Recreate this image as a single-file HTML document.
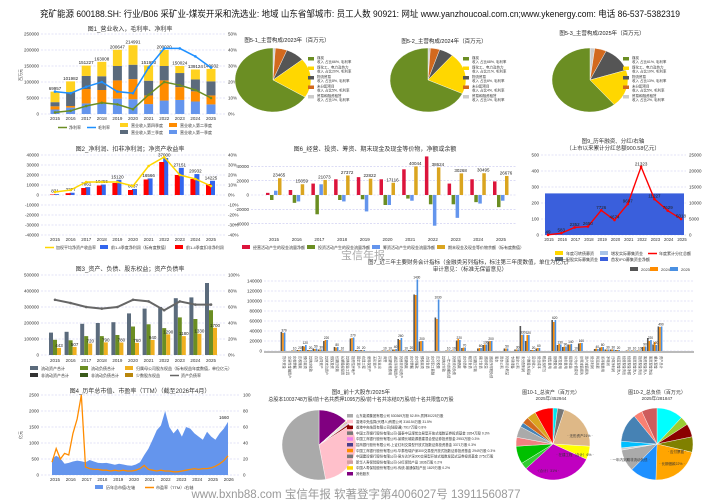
<!DOCTYPE html>
<html><head><meta charset="utf-8"><style>
html,body{margin:0;padding:0;background:#fff}
svg{display:block;font-family:"Liberation Sans","Noto Sans CJK SC",sans-serif}
</style></head><body>
<svg id="c" width="714" height="500" viewBox="0 0 714 500" xmlns="http://www.w3.org/2000/svg">
<text x="360" y="17" font-size="9" text-anchor="middle" textLength="640" lengthAdjust="spacingAndGlyphs" fill="#111">兖矿能源 600188.SH:  行业/B06 采矿业-煤炭开采和洗选业:  地域 山东省邹城市:  员工人数 90921:  网址 www.yanzhoucoal.com.cn;www.ykenergy.com:  电话 86-537-5382319</text>
<text x="363" y="259" font-size="11" text-anchor="middle" fill="#aaa">宝信年报</text>
<text x="356" y="498" font-size="11.5" text-anchor="middle" fill="#999">www.bxnb88.com  宝信年报  软著登字第4006027号  13911560877</text>
</svg>
<script>
const years=['2015','2016','2017','2018','2019','2020','2021','2022','2023','2024','2025'];
// chart1
const revQ1=[14000,20000,33000,35000,48000,46000,31000,42000,44000,39000,30000];
const revQ2=[10000,5000,45000,40000,57000,63000,27000,63000,40000,32000,28000];
const revQ3=[13000,43000,41000,43000,45000,45000,46000,45000,44000,37000,44000];
const revQ4=[32957,33982,32227,45008,50647,60991,47990,50020,22024,31124,38932];
const revTotal=[69957,101982,151227,163008,200647,214991,151990,200020,150024,139124,140932];
const grossM=[14,13,17,20,14,13,29,41,41,36,29];
const netM=[1,2,5,7,6,3,12,20,18,15,10];
// chart2
const netProfit=[831,2277,7861,10455,15120,6037,16566,37000,27151,20932,14225];
const dedProfit=[500,1800,7000,9500,12000,5000,15500,33000,20000,16000,11000];
const roe=[3,5,13,13,13,9,29,38,20,16,9];
// chart6
const cfOp=[3000,7000,16000,22000,25000,22000,36000,54000,16000,22000,19000];
const cfInv=[-7000,-11000,-27000,-7000,-6000,-14000,-5000,-13000,-13000,-10000,-17000];
const cfFin=[6000,-9000,15000,-9000,-23000,-14000,-8000,-43000,-32000,-12000,-8000];
const cashEnd=[23465,15059,21073,27372,22822,17116,40044,38624,30268,30495,26676];
// chart9
const divs=[49,583,2352,2650,7726,4674,9697,21323,11227,7629,5018];
const raisedCum=260;
// chart3
const assets=[140000,145000,195000,200000,205000,260000,290000,300000,355000,360000,450000];
const liabs=[95000,92000,118000,118000,125000,178000,192000,168000,235000,225000,280000];
const equity=[44300,50700,72000,79000,78000,76000,94000,129000,118000,133000,170000];
const debtR=[69,65,60,58,60,69,67,56,67,63,63];
// chart7
const itemNames=['货币资金','交易性金融资产','应收票据','应收账款','预付款项','其他应收款','存货','合同资产','其他流动资产','债权投资','长期应收款','长期股权投资','其他权益工具','投资性房地产','固定资产','在建工程','使用权资产','无形资产','开发支出','商誉','长期待摊费用','递延所得税资产','其他非流动资产','短期借款','应付票据','应付账款','预收款项','合同负债','应付职工薪酬','应交税费','其他应付款','一年内到期负债','其他流动负债','长期借款','应付债券','租赁负债','长期应付款','预计负债','递延收益','递延所得税负债','股本','资本公积','其他综合收益','专项储备','盈余公积','未分配利润','少数股东权益','营业收入','营业成本','税金及附加','销售费用','管理费用','研发费用','财务费用','投资收益','公允价值变动','信用减值损失','资产减值损失','营业利润','利润总额','所得税费用','净利润','归母净利润','经营现金流入','经营现金流出','经营现金净额','投资现金流入','投资现金流出','筹资现金流入','筹资现金流出','期末现金','资产总计'];
const v2023=[38000,0,1000,2000,10000,2000,5000,3000,20000,0,8000,1000,0,25000,2000,2000,0,0,0,1000,1000,3000,24000,1000,2000,113000,19000,0,0,67000,0,1000,1000,21000,6000,0,0,5000,12000,19000,0,0,5000,0,3000,50000,20000,2000,5000,0,0,62000,12000,8000,13000,1000,15000,0,0,4000,7000,3000,3000,2000,0,1000,1000,1000,8000,26000,13000,49000];
const v2024=[36000,0,1000,2000,9000,2000,4000,3000,22000,0,7000,1000,0,26000,2000,1000,0,0,0,1000,1000,3000,22000,1000,2000,112000,20000,0,0,64000,0,1000,1000,24000,7000,0,0,6000,13000,20000,0,0,5000,0,3000,32000,32000,2000,6000,0,0,58000,14000,9000,13000,1000,16000,0,0,5000,8000,3000,3000,2000,0,1000,1000,1000,9000,20000,18000,48000];
const v2025=[37000,0,1000,2000,12000,2000,5000,3000,22000,0,8000,1000,0,27000,2000,2000,0,0,0,1000,1000,4000,26000,1000,2000,143000,20000,0,0,103000,0,1000,1000,22000,7000,0,0,6000,13000,20000,0,0,5000,0,3000,33000,32000,2000,6000,0,0,62000,13000,9000,14000,1000,16000,0,0,4000,8000,3000,3000,2000,0,1000,1000,1000,9000,22000,12000,49000];
// chart4
const mcapLabels=['2015','2016','2017','2018','2019','2020','2021','2022','2023','2024','2025','2026'];
const mcap=[500,600,520,350,380,420,450,430,400,470,420,380,370,380,350,320,350,330,300,290,330,400,620,820,1100,1400,1550,2000,1500,1300,1450,1200,1500,1450,1300,1200,1100,1350,1200,1100,1300,1450,1660];
const pe=[16,33,20,27,25,52,70,100,10,8,7,7,6,6,5,6,5,6,5,5,6,8,12,7,6,5,6,5,5,4,4,5,6,7,8,7,8,8,9,11,14,18,24];
// pies (order: 煤炭, 煤化工电力, 物流贸易, 未分配, 贸易融资)
const pie51=[66,20,8,5,1], pie52=[68,21,6,4,1], pie53=[61,19,13,5,2];
const pie5Names=['煤炭','煤化工、电力及热力','物流贸易','未分配项目','贸易和融资租赁'];
const holders=[52.8,31.5,0.8,0.3,0.3,0.3,0.3,0.3,0.2,0.2,12.9];
const holderNames=['山东能源集团有限公司 530369万股 52.8% 质押30225万股','香港中央结算(代理人)有限公司 316154万股 31.5%','香港中央结算有限公司(陆股通) 7917万股 0.8%','中国工商银行股份有限公司-国泰中证煤炭交易型开放式指数证券投资基金 3354万股 0.3%','中国工商银行股份有限公司-景顺长城能源基建混合型证券投资基金 2953万股 0.3%','招商银行股份有限公司-上证红利交易型开放式指数证券投资基金 3371万股 0.3%','中国工商银行股份有限公司-华泰柏瑞沪深300交易型开放式指数证券投资基金 2949万股 0.3%','中国建设银行股份有限公司-易方达沪深300交易型开放式指数发起式证券投资基金 2752万股','新华人寿保险股份有限公司-分红保险产品 1836万股 0.2%','中国人寿保险股份有限公司-传统-普通保险产品 1829万股 0.2%','其他股东'];
const assetShares=[2,3,21,6,31,3,8,4,5,2,3,4,8];
const liabShares=[12,4,6,7,22,12,10,1,3,13,4,7];
</script>
<script>
const NS='http://www.w3.org/2000/svg';
const svg=document.getElementById('c');
function mk(t,a){const e=document.createElementNS(NS,t);for(const k in a)e.setAttribute(k,a[k]);svg.appendChild(e);return e;}
function tx(x,y,s,fs,anc,col,tr){const e=mk('text',{x:x,y:y,'font-size':fs,'text-anchor':anc||'middle',fill:col||'#333'});if(tr)e.setAttribute('transform',tr);e.textContent=s;


return e;}
function sc(d0,d1,r0,r1){return v=>r0+(v-d0)/(d1-d0)*(r1-r0);}
function grid(x0,x1,ys,vals,fmt,side){vals.forEach(v=>{const y=ys(v);const l=mk('line',{x1:x0,x2:x1,y1:y,y2:y,stroke:'#c8c8f0','stroke-width':0.6,'stroke-dasharray':'2,1.5'});


tx(side==='r'?x1+3:x0-2,y+1.7,fmt(v),4.5,side==='r'?'start':'end','#333');});}
function rlabels(x,ys,vals,fmt){vals.forEach(v=>tx(x,ys(v)+1.7,fmt(v),4.5,'start','#333'));}
function xlabels(xs,labels,y){labels.forEach((l,i)=>tx(xs(i),y,l,4.5,'middle','#333'));}
function rect(x,y,w,h,c,name){const r=mk('rect',{x:x,y:Math.min(y,y+h),width:Math.max(w,0),height:Math.abs(h),fill:c});


return r;}
function line(pts,c,w,name,mark){const p=mk('polyline',{points:pts.map(q=>q.join(',')).join(' '),fill:'none',stroke:c,'stroke-width':w});


if(mark)pts.forEach(q=>{const m=mk('circle',{cx:q[0],cy:q[1],r:1.3,fill:c});

});}
function legend(x,y,c,label,isLine){if(isLine){const l=mk('line',{x1:x,x2:x+9,y1:y-1.5,y2:y-1.5,stroke:c,'stroke-width':1.5});

}else{rect(x,y-4,8,4,c,'legend-swatch');}
tx(x+11,y,label,4,'start','#333');}
const fmtK=v=>String(v);
const pct=v=>v+'%';

// ===== Chart 1 =====
tx(130,31,'图1_营业收入，毛利率、净利率',6);
{const x0=41,x1=225,ys=sc(0,250000,114,34),yr=sc(0,50,114,34),xs=i=>55+i*15.6;
grid(x0,x1,ys,[0,50000,100000,150000,200000,250000],fmtK);
rlabels(x1+3,yr,[0,10,20,30,40,50],pct);
tx(22,75,'百万元',4,'middle','#333','rotate(-90 22 75)');
years.forEach((y,i)=>{let b=0;[[revQ1,'#6495ed'],[revQ2,'#ff8c00'],[revQ3,'#5b6b7c'],[revQ4,'#ffd21f']].forEach(([a,c])=>{rect(xs(i)-4.5,ys(b+a[i]),9,ys(b)-ys(b+a[i]),c,'revenue-bar-'+y);b+=a[i];});
tx(xs(i),ys(revTotal[i])-1.5,String(revTotal[i]),4.5,'middle','#222');});
line(grossM.map((v,i)=>[xs(i),yr(v)]),'#1e90ff',1.5,'gross-margin-line',true);
line(netM.map((v,i)=>[xs(i),yr(v)]),'#6b8e23',1.5,'net-margin-line',true);
xlabels(xs,years,120);
legend(58,129,'#6b8e23','净利率',true);legend(87,129,'#1e90ff','毛利率',true);legend(120,127,'#ffd21f','营业收入第四季度');legend(169,127,'#ff8c00','营业收入第二季度');
legend(120,134,'#5b6b7c','营业收入第三季度');legend(169,134,'#6495ed','营业收入第一季度');}

// ===== Pies =====
function pie(cx,cy,rx,ry,vals,cols,name){const tot=vals.reduce((a,b)=>a+b,0);let a=-Math.PI/2;vals.forEach((v,i)=>{const a2=a+v/tot*2*Math.PI;const lg=(a2-a)>Math.PI?1:0;
const d=`M${cx},${cy} L${cx+rx*Math.cos(a)},${cy+ry*Math.sin(a)} A${rx},${ry} 0 ${lg} 1 ${cx+rx*Math.cos(a2)},${cy+ry*Math.sin(a2)} Z`;
const p=mk('path',{d:d,fill:cols[i%cols.length],stroke:'#fff','stroke-width':0.4});

a=a2;});}
const p5c=['#6b8e23','#ffd700','#555','#d2691e','#ccc'];
function pie5(cx,cy,vals,title,tx0,ty0,lx){tx(tx0,ty0,title,5.5,'middle','#222');
pie(cx,cy,38,32,[vals[4],vals[3],vals[2],vals[1],vals[0]],[p5c[4],p5c[3],p5c[2],p5c[1],p5c[0]],'segment-pie');
pie5Names.forEach((n,i)=>{const y=60+i*9.5;rect(lx,y-3,6,3.5,p5c[i],'legend-swatch');tx(lx+9,y-1,n,3.5,'start','#333');tx(lx+9,y+3,'收入 占比'+vals[i]+'%, 毛利率',3.5,'start','#333');});}
pie5(273,80,pie51,'图5-1_主营构成/2023年（百万元）',287,42,308);
pie5(428,80,pie52,'图5-2_主营构成/2024年（百万元）',444,43,463);
pie5(590,80,pie53,'图5-3_主营构成/2025年（百万元）',602,35,623);

// ===== Chart 2 =====
tx(130,151,'图2_净利润、扣非净利润；净资产收益率',6);
{const x0=41,x1=225,ys=sc(-40000,40000,235,155),yr=sc(-40,40,235,155),xs=i=>55+i*15.6;
grid(x0,x1,ys,[-40000,-30000,-20000,-10000,0,10000,20000,30000,40000],fmtK);
rlabels(x1+3,yr,[-40,-30,-20,-10,0,10,20,30,40],pct);
years.forEach((y,i)=>{rect(xs(i)-1,ys(netProfit[i]),5,ys(0)-ys(netProfit[i]),'#3366ee','net-profit-bar-'+y);rect(xs(i)-5,ys(dedProfit[i]),5,ys(0)-ys(dedProfit[i]),'#ff0000','deducted-profit-bar-'+y);
tx(xs(i),ys(netProfit[i])-1.5,String(netProfit[i]),4.5,'middle','#222');});
line(roe.map((v,i)=>[xs(i),yr(v)]),'#ffd700',1.5,'roe-line',true);
xlabels(xs,years,241);
legend(45,249,'#ffd700','加权平均净资产收益率',true);legend(100,249,'#3366ee','前1-4季度净利润（标有度数值）');legend(175,249,'#ff0000','前1-4季度扣非净利润');}

// ===== Chart 6 =====
tx(375,151,'图6_经营、投资、筹资、期末现金及现金等价物，净额或余额',6);
{const x0=251,x1=516,ys=sc(-56000,56000,235,155),xs=i=>274+i*22.7;
grid(x0,x1,ys,[-40000,-20000,0,20000,40000],fmtK);
years.forEach((y,i)=>{[[cfOp,'#dc143c'],[cfInv,'#6b8e23'],[cfFin,'#6495ed'],[cashEnd,'#daa520']].forEach(([a,c],k)=>rect(xs(i)-8+k*4,ys(a[i]),3.5,ys(0)-ys(a[i]),c,'cashflow-bar-'+y));
tx(xs(i)+5,ys(cashEnd[i])-1.5,String(cashEnd[i]),4.5,'middle','#222');});
xlabels(xs,years,241);
legend(242,249,'#dc143c','经营活动产生的现金流量净额');legend(307,249,'#6b8e23','投资活动产生的现金流量净额');legend(372,249,'#6495ed','筹资活动产生的现金流量净额');legend(437,249,'#daa520','期末现金及现金等价物余额（标有度数值）');}

// ===== Chart 9 =====
tx(613,143,'图9_历年融资、分红/右轴',5.5);tx(613,150,'（上市以来累计分红总额900.58亿元）',5.5);
{const x0=541,x1=686,ys=sc(0,500,235,155),yr=sc(0,25000,235,155),xs=i=>548+i*13.3;
grid(x0,x1,ys,[0,100,200,300,400,500],fmtK);
rlabels(x1+3,yr,[0,5000,10000,15000,20000,25000],fmtK);
rect(545,ys(raisedCum),139,ys(0)-ys(raisedCum),'#3a5fdc','raised-capital-area');
line(divs.map((v,i)=>[xs(i),yr(v)]),'#ff0000',1.4,'dividend-line',true);
divs.forEach((v,i)=>tx(xs(i),yr(v)-1.5,String(v),4.5,'middle','#222'));
years.forEach((y,i)=>tx(xs(i)+1,241,y,4.2,'middle','#333'));
legend(555,255,'#ffd700','年度可转债募资');legend(600,255,'#a9c4e8','增发实际募集资金');legend(555,261,'#5b6b7c','配股实际募集资金');legend(600,261,'#3a5fdc','首发IPO募集资金净额');legend(648,255,'#ff0000','年度累计分红总额',true);}

// ===== Chart 3 =====
tx(130,271,'图3_资产、负债、股东权益；资产负债率',6);
{const x0=41,x1=225,ys=sc(0,500000,355,275),yr=sc(0,100,355,275),xs=i=>55+i*15.6;
grid(x0,x1,ys,[0,100000,200000,300000,400000,500000],fmtK);
rlabels(x1+3,yr,[0,20,40,60,80,100],pct);
years.forEach((y,i)=>{rect(xs(i)-6,ys(assets[i]),4,ys(0)-ys(assets[i]),'#5b6b7c','assets-bar-'+y);rect(xs(i)-2,ys(liabs[i]),4,ys(0)-ys(liabs[i]),'#6b8e23','liabilities-bar-'+y);rect(xs(i)+2,ys(equity[i]),4,ys(0)-ys(equity[i]),'#f0b020','equity-bar-'+y);
tx(xs(i)+4,ys(equity[i])-1,String(Math.round(equity[i]/100)),4.5,'middle','#222');});
line(debtR.map((v,i)=>[xs(i),yr(v)]),'#666',2,'debt-ratio-line',true);
xlabels(xs,years,362);
legend(30,370,'#5b6b7c','流动资产合计');legend(80,370,'#6b8e23','流动负债合计');legend(125,370,'#f0b020','归属母公司股东权益（标有权益年度数值，单位亿元）');
legend(30,377,'#333','非流动资产合计');legend(80,377,'#3a5a1a','非流动负债合计');legend(125,377,'#b8860b','少数股东权益');legend(170,377,'#666','资产负债率',true);}

// ===== Chart 7 =====
tx(470,264,'图7_近三年主要财务会计指标（金融类另列指标，标注第三年度数值，单位为亿元）',5.5);
tx(470,271,'审计意见：（标准无保留意见）',5.5);
{const x0=264,x1=694,ys=sc(0,140000,351,281),n=itemNames.length,xs=i=>283+i*(377/(n-1));
grid(x0,x1,ys,[0,20000,40000,60000,80000,100000,120000,140000],fmtK);
rect(x0,351,x1-x0,2,'#bbb','x-axis-band');
itemNames.forEach((nm,i)=>{rect(xs(i)-2.4,ys(v2023[i]),1.6,ys(0)-ys(v2023[i]),'#555','item-bar-2023');rect(xs(i)-0.8,ys(v2024[i]),1.6,ys(0)-ys(v2024[i]),'#ff8c00','item-bar-2024');rect(xs(i)+0.8,ys(v2025[i]),1.6,ys(0)-ys(v2025[i]),'#4a90e2','item-bar-2025');
if(v2025[i]>=1000)tx(xs(i)+1,ys(v2025[i])-1,String(Math.round(v2025[i]/100)),3.2,'middle','#222');
tx(xs(i),356,nm,3.2,'start','#444','rotate(90 '+xs(i)+' 356)');});
legend(630,271,'#555','2023');legend(650,271,'#ff8c00','2024');legend(670,271,'#4a90e2','2025');}

// ===== Chart 4 =====
tx(140,393,'图4_历年总市值、市盈率（TTM）（截至2026年4月）',6);
{const x0=41,x1=240,ys=sc(0,2500,475,395),yr=sc(0,100,475,395),n=mcap.length,xs=i=>52+i*(176/(n-1));
grid(x0,x1,ys,[0,500,1000,1500,2000,2500],fmtK);
rlabels(x1+3,yr,[0,20,40,60,80,100],String);
tx(22,435,'亿元',4,'middle','#333','rotate(-90 22 435)');
const ap=mk('path',{d:'M'+xs(0)+','+ys(0)+' '+mcap.map((v,i)=>'L'+xs(i)+','+ys(v)).join(' ')+' L'+xs(n-1)+','+ys(0)+' Z',fill:'#6495ed'});


line(pe.map((v,i)=>[xs(i),yr(Math.min(v,100))]),'#ff8c00',1.3,'pe-line',false);
tx(xs(n-1)-4,ys(mcap[n-1])-3,String(mcap[n-1]),4.5,'middle','#222');
mcapLabels.forEach((l,i)=>tx(55+i*15.8,481,l,4.5,'middle','#333'));
legend(95,489,'#6495ed','历年总市值/左轴');legend(145,489,'#ff8c00','市盈率（TTM）/右轴',true);}

// ===== Pie 8 =====
tx(361,394,'图8_前十大股东/2025年',5.5);tx(361,401,'总股本1003748万股/前十名共质押1095万股/前十名共冻结0万股/前十名共限售0万股',5);
{const cols=['#aaa','#ffc0cb','#8b0000','#777','#ee82ee','#483d8b','#ff8c00','#777','#d2a0a0','#ffd700','#800080'];
pie(319,445,37,35,holders.slice().reverse(),cols.slice().reverse(),'holder-pie');
holderNames.forEach((n,i)=>{const y=417+i*5.8;rect(347,y-3,6,3.5,cols[i],'legend-swatch');tx(356,y,n,3.4,'start','#333');});}

// ===== Pie 10-1, 10-2 =====
tx(551,394,'图10-1_总资产（百万元）',5);tx(551,400,'2025年/452944',4.5);
pie(553,444,37,36,assetShares,['#00e5ee','#777','#deb887','#ffff00','#c000c0','#32cd32','#00c000','#f08080','#aaa','#4682b4','#d2691e','#daa520','#ff0000'],'assets-pie');
tx(580,437,'· 无形资产21% ·',3.5);tx(575,456,'· 在建工程（合计）6% ·',3.5);tx(548,472,'·（合计）31% ·',3.5);
tx(657,394,'图10-2_总负债（百万元）',5);tx(657,400,'2025年/281847',4.5);
pie(657,444,36,36,liabShares,['#00ffff','#9acd32','#8b0000','#808000','#ffa500','#1e90ff','#aaa','#ccc','#00bfff','#4682b4','#fa8072','#cd5c5c'],'liabilities-pie');
tx(677,453,'· 应付票据 ·',3.5);tx(672,465,'· 长期借款22% ·',3.5);tx(630,461,'· 一年内到期非流动负债 ·',3.5);
</script>
</body></html>
